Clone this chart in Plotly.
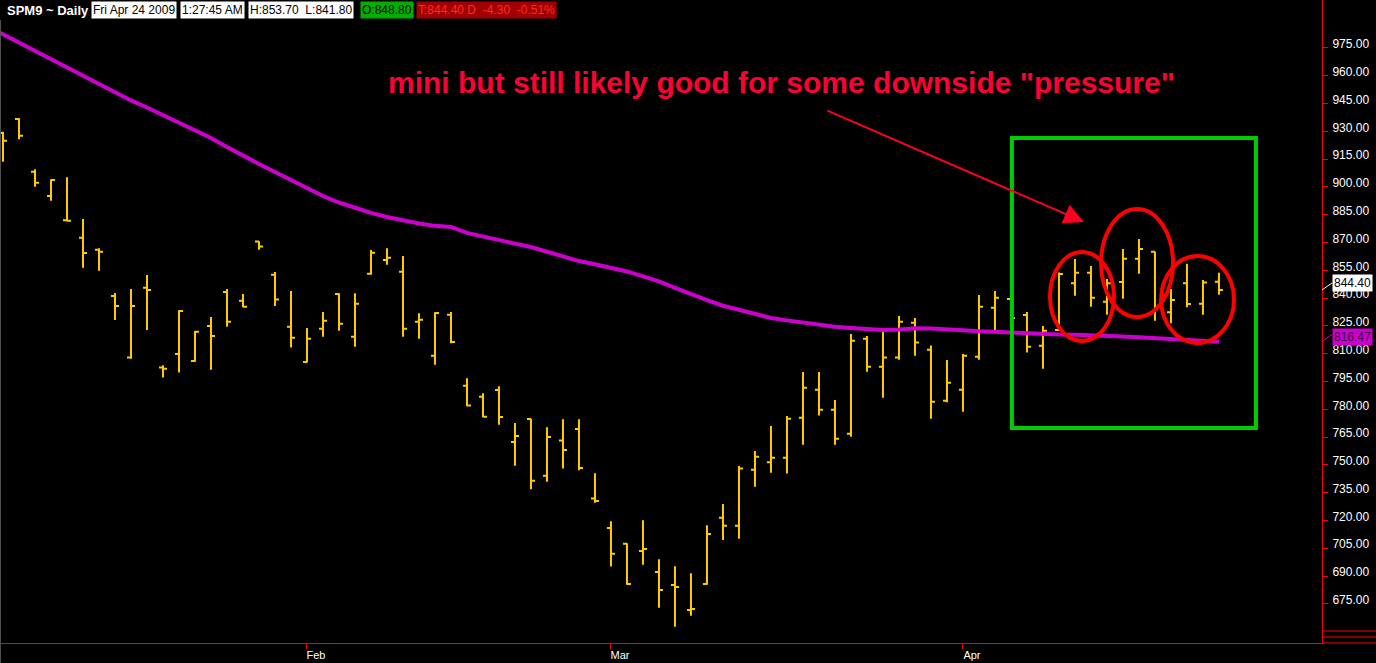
import plotly.graph_objects as go

# ---------------- data ----------------
dates = [
    "2009-01-02", "2009-01-05", "2009-01-06", "2009-01-07", "2009-01-08", "2009-01-09",
    "2009-01-12", "2009-01-13", "2009-01-14", "2009-01-15", "2009-01-16", "2009-01-20",
    "2009-01-21", "2009-01-22", "2009-01-23", "2009-01-26", "2009-01-27", "2009-01-28",
    "2009-01-29", "2009-01-30",
    "2009-02-02", "2009-02-03", "2009-02-04", "2009-02-05", "2009-02-06", "2009-02-09",
    "2009-02-10", "2009-02-11", "2009-02-12", "2009-02-13", "2009-02-17", "2009-02-18",
    "2009-02-19", "2009-02-20", "2009-02-23", "2009-02-24", "2009-02-25", "2009-02-26",
    "2009-02-27",
    "2009-03-02", "2009-03-03", "2009-03-04", "2009-03-05", "2009-03-06", "2009-03-09",
    "2009-03-10", "2009-03-11", "2009-03-12", "2009-03-13", "2009-03-16", "2009-03-17",
    "2009-03-18", "2009-03-19", "2009-03-20", "2009-03-23", "2009-03-24", "2009-03-25",
    "2009-03-26", "2009-03-27", "2009-03-30", "2009-03-31",
    "2009-04-01", "2009-04-02", "2009-04-03", "2009-04-06", "2009-04-07", "2009-04-08",
    "2009-04-09", "2009-04-13", "2009-04-14", "2009-04-15", "2009-04-16", "2009-04-17",
    "2009-04-20", "2009-04-21", "2009-04-22", "2009-04-23", "2009-04-24",
]
bar_dates = dates[1:]

opens = [
    929.1, 936.7, 908.2, 895.1, 882.0, 872.6, 866.1, 841.2, 807.9, 845.6,
    802.5, 809.9, 806.1, 825.0, 843.3, 838.6, 870.5, 852.6, 824.6, 805.5,
    823.5, 842.2, 819.2, 853.2, 860.6, 854.3, 827.3, 808.9, 831.1, 792.7,
    786.8, 790.4, 762.4, 774.8, 744.2, 763.1, 769.4, 731.8, 715.9, 707.5,
    703.5, 692.2, 685.2, 671.7, 685.7, 721.5, 717.2, 747.4, 751.4, 753.9,
    775.5, 790.6, 779.8, 766.8, 818.1, 803.0, 807.9, 826.7, 812.2, 784.6,
    790.6, 808.4, 834.8, 839.5, 830.9, 814.3, 822.8, 848.0, 853.7, 838.1,
    848.7, 861.3, 865.1, 832.4, 848.0, 837.0, 848.8,
]
highs = [
    929.8, 937.1, 909.5, 904.1, 905.2, 882.7, 866.9, 842.8, 844.9, 852.5,
    803.8, 833.4, 822.3, 829.8, 844.9, 842.2, 870.7, 854.1, 843.9, 823.9,
    832.5, 842.6, 842.6, 866.0, 866.9, 862.7, 831.8, 832.4, 832.5, 796.7,
    788.6, 792.4, 772.6, 774.9, 770.3, 774.6, 774.6, 745.5, 719.6, 707.7,
    720.1, 699.1, 695.3, 691.5, 717.4, 728.9, 749.4, 757.5, 771.0, 776.4,
    800.1, 800.1, 785.0, 820.6, 819.6, 821.9, 830.4, 829.3, 814.5, 806.6,
    809.9, 841.7, 843.9, 841.2, 832.5, 825.0, 853.8, 861.1, 857.3, 850.3,
    866.5, 871.9, 865.1, 844.9, 858.6, 849.8, 853.7,
]
lows = [
    913.6, 925.7, 900.1, 892.6, 881.5, 856.4, 854.8, 828.2, 807.3, 822.8,
    797.1, 799.8, 805.7, 801.4, 824.6, 835.1, 866.1, 835.8, 813.3, 805.2,
    819.2, 822.4, 813.8, 852.6, 858.0, 819.2, 818.1, 804.1, 815.6, 781.6,
    775.7, 771.7, 749.6, 736.8, 740.9, 748.0, 747.1, 729.6, 695.1, 685.3,
    696.1, 672.9, 662.7, 668.6, 685.3, 709.5, 710.2, 738.2, 745.8, 745.3,
    760.9, 776.6, 760.9, 765.2, 800.3, 786.3, 806.8, 808.9, 774.9, 783.8,
    778.7, 806.8, 822.8, 822.8, 810.6, 801.9, 822.3, 841.3, 835.4, 831.1,
    839.7, 853.2, 827.8, 826.4, 835.1, 831.1, 841.8,
]
closes = [
    925.0, 927.7, 902.3, 903.8, 881.8, 864.4, 865.1, 835.8, 835.8, 844.4,
    801.9, 833.1, 821.9, 819.6, 827.3, 835.4, 867.8, 839.2, 818.6, 818.1,
    827.8, 826.2, 837.0, 864.5, 861.8, 823.5, 828.4, 832.0, 816.3, 782.0,
    776.0, 775.9, 765.6, 741.5, 765.1, 758.0, 748.3, 730.5, 702.1, 685.7,
    704.6, 682.5, 684.1, 672.2, 712.7, 717.2, 748.0, 754.4, 753.9, 774.9,
    791.7, 779.8, 764.1, 817.0, 803.0, 807.9, 827.3, 816.0, 784.1, 794.4,
    808.9, 835.4, 840.2, 829.3, 813.8, 822.4, 853.0, 853.7, 840.2, 848.0,
    861.3, 866.5, 835.0, 839.0, 836.8, 848.5, 844.4,
]
moving_avg = [
    986.8,
    982.3, 977.7, 973.4, 968.9, 964.5, 959.9, 955.6, 951.3, 946.7, 942.9,
    938.8, 935.1, 931.0, 926.4, 921.6, 916.7, 912.4, 908.1, 903.8, 899.4,
    895.1, 891.6, 888.8, 886.0, 883.8, 882.0, 880.3, 879.0, 878.4, 875.2,
    873.1, 871.4, 869.4, 867.6, 865.1, 862.2, 860.0, 858.3, 856.5, 854.4,
    851.7, 849.0, 845.5, 842.1, 838.9, 835.9, 833.7, 831.4, 829.3, 828.0,
    826.7, 825.6, 824.5, 823.9, 823.3, 822.8, 823.1, 823.7, 823.6, 823.3,
    822.7, 822.1, 821.7, 821.3, 821.0, 820.6, 820.4, 820.3, 820.1, 819.7,
    819.3, 818.9, 818.5, 818.2, 817.8, 817.1, 816.47,
]
y_ticks = [675, 690, 705, 720, 735, 750, 765, 780, 795, 810, 825, 840, 855,
           870, 885, 900, 915, 930, 945, 960, 975]
month_ticks = ["2009-02-02", "2009-03-02", "2009-04-01"]
month_labels = ["Feb", "Mar", "Apr"]

last_price = 844.40
ma_last = 816.47

BAR = "#FFCC00"
MAG = "#CC00CC"
RED = "#FF0000"
FONT = "Liberation Sans, Arial, sans-serif"

fig = go.Figure()
fig.add_trace(go.Ohlc(
    x=bar_dates, open=opens, high=highs, low=lows, close=closes,
    increasing=dict(line=dict(color=BAR, width=2)),
    decreasing=dict(line=dict(color=BAR, width=2)),
    tickwidth=0.25, showlegend=False, hoverinfo="skip",
))
fig.add_trace(go.Scatter(
    x=dates, y=moving_avg, mode="lines",
    line=dict(color=MAG, width=4), showlegend=False, hoverinfo="skip",
))

fig.update_layout(
    width=1376, height=663,
    margin=dict(l=0, r=54, t=0, b=20),
    paper_bgcolor="black", plot_bgcolor="black",
    font=dict(family=FONT, color="white", size=12),
    showlegend=False,
)
fig.update_xaxes(
    type="category", categoryorder="array", categoryarray=dates,
    range=[0.8125, 83.44],
    tickvals=month_ticks, ticktext=month_labels,
    ticks="outside", ticklen=5, tickcolor=RED, tickwidth=1,
    showline=True, linecolor=RED, linewidth=1,
    showgrid=False, zeroline=False,
    tickfont=dict(family=FONT, size=11, color="white"),
    ticklabelshift=9, ticklabelstandoff=-3,
    rangeslider=dict(visible=False),
)
fig.update_yaxes(
    side="right", range=[653.88, 1000.9],
    tickvals=y_ticks, ticktext=[f"{v:.2f}" for v in y_ticks],
    ticks="outside", ticklen=5, tickcolor=RED, tickwidth=1,
    ticklabelshift=-4, ticklabelstandoff=2,
    showline=True, linecolor=RED, linewidth=1,
    showgrid=False, zeroline=False,
    tickfont=dict(family=FONT, size=12, color="white"),
)

# extra axis-frame lines in the right margin
for py in (643, 637, 631):
    yp = 1 - py / 643
    fig.add_shape(type="line", xref="paper", yref="paper",
                  x0=1.0, x1=1376 / 1322, y0=yp, y1=yp,
                  line=dict(color=RED, width=1))
fig.add_shape(type="line", xref="paper", yref="paper",
              x0=0.0004, x1=0.0004, y0=-20 / 643, y1=1 - 20 / 643,
              line=dict(color="#505050", width=1))

# annotations drawn on the chart
fig.add_shape(type="rect", xref="x", yref="y",
              x0=64.06, x1=79.31, y0=769.9, y1=926.4,
              line=dict(color="#00CC00", width=4))
for (x0, x1, y0, y1) in [(66.44, 70.44, 816.9, 864.9),
                         (69.63, 74.13, 829.8, 888.1),
                         (73.38, 77.94, 815.8, 862.7)]:
    fig.add_shape(type="circle", xref="x", yref="y",
                  x0=x0, x1=x1, y0=y0, y1=y1,
                  line=dict(color=RED, width=4))

fig.add_annotation(
    text='mini but still likely good for some downside "pressure"',
    xref="paper", yref="paper", x=781 / 1322, y=1 - 83 / 643,
    xanchor="center", yanchor="middle",
    showarrow=False, font=dict(family=FONT, size=30, color="#FF0033", weight="bold"),
)
fig.add_annotation(
    x=68.56, y=881.1, xref="x", yref="y", text="",
    showarrow=True, ax=-258, ay=-112,
    arrowhead=2, arrowsize=2, arrowwidth=2, arrowcolor="#FF0022",
)

# price tags on right axis
fig.add_shape(type="line", xref="paper", yref="y",
              x0=1.0, x1=1 + 10 / 1322, y0=last_price, y1=last_price + 3.8,
              line=dict(color="white", width=1))
fig.add_annotation(
    text=f"{last_price:.2f}", xref="paper", yref="y", x=1.0, y=last_price,
    xanchor="left", yanchor="middle", xshift=10, yshift=7, showarrow=False,
    bgcolor="white", borderpad=1, font=dict(family=FONT, size=12, color="black"),
)
fig.add_shape(type="line", xref="paper", yref="y",
              x0=1.0, x1=1 + 10 / 1322, y0=ma_last, y1=ma_last + 4.0,
              line=dict(color=MAG, width=1))
fig.add_annotation(
    text=f"{ma_last:.2f}", xref="paper", yref="y", x=1.0, y=ma_last,
    xanchor="left", yanchor="middle", xshift=10, yshift=5, showarrow=False,
    bgcolor=MAG, borderpad=1, font=dict(family=FONT, size=12, color="#3A003A"),
)

# header strip
NB = "\u00a0"
header = [
    ("SPM9 ~ Daily", 5, None, "white", True),
    ("Fri Apr 24 2009", 91, "white", "black", False),
    ("1:27:45 AM", 180, "white", "black", False),
    (f"H:853.70{NB}{NB}L:841.80", 248, "white", "black", False),
    ("O:848.80", 360, "#00B000", "black", False),
    (f"T:844.40 D{NB}{NB}-4.30{NB}{NB}-0.51%", 416, "#A00000", "#FF2A2A", False),
]
for txt, px, bg, fg, bold in header:
    fig.add_annotation(
        text=txt, xref="paper", yref="paper", x=px / 1322, y=1 - 10.5 / 643,
        xanchor="left", yanchor="middle", showarrow=False,
        bgcolor=bg if bg else "rgba(0,0,0,0)", borderpad=1,
        font=dict(family=FONT, size=13 if bold else 12, color=fg,
                  weight="bold" if bold else "normal"),
    )

fig.write_html(
    "out.html",
    config={"displayModeBar": False},
    post_script="document.body.style.margin='0';document.body.style.background='black';",
)
